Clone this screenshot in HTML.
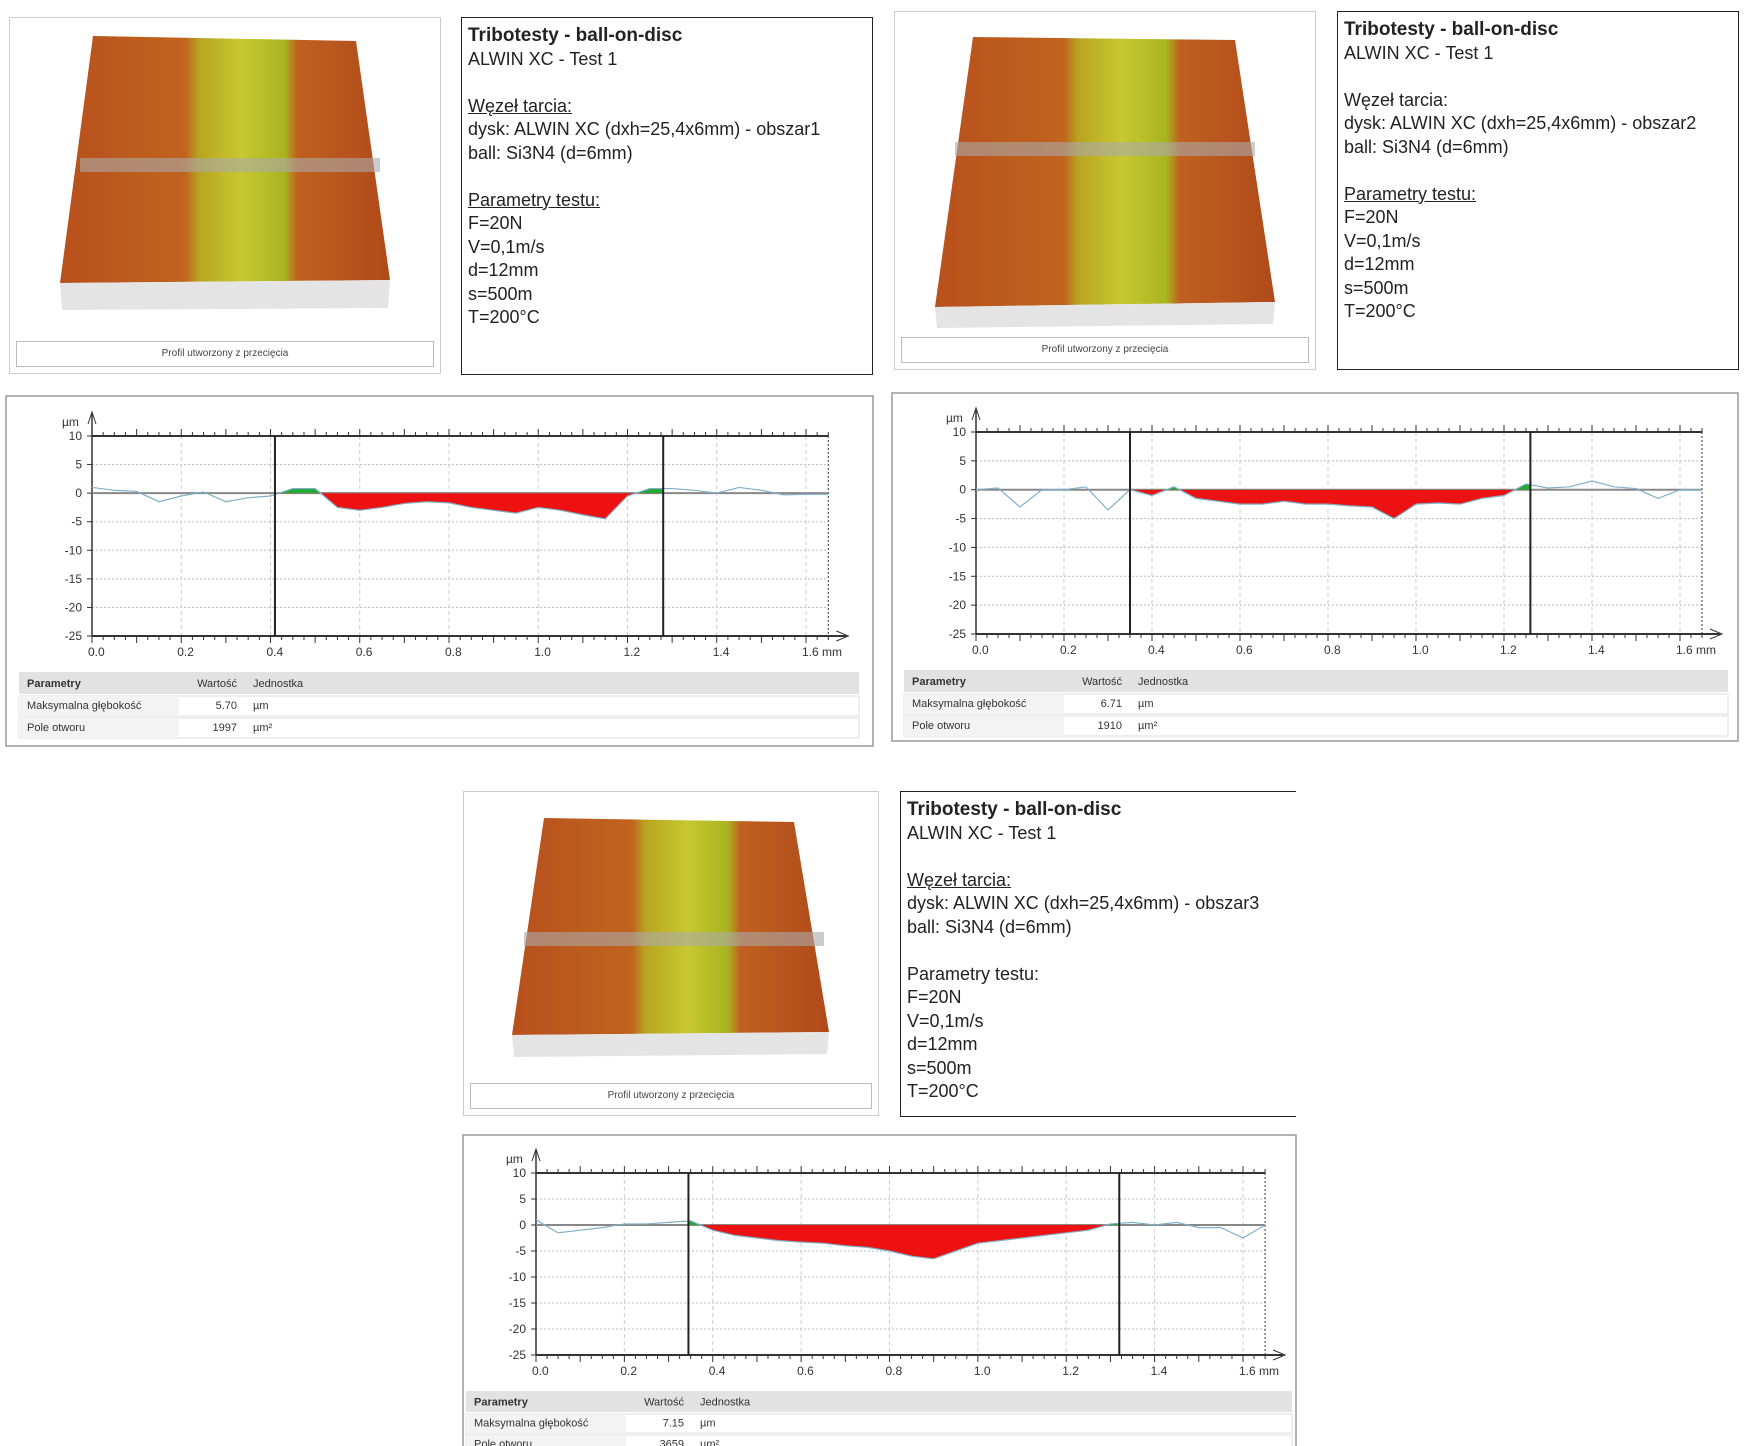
<!DOCTYPE html>
<html><head><meta charset="utf-8">
<style>
html,body{margin:0;padding:0;background:#fff;}
body{width:1750px;height:1446px;position:relative;overflow:hidden;font-family:"Liberation Sans",sans-serif;}
.box{position:absolute;border:1.5px solid #222;box-sizing:border-box;background:#fff;}
.imgp{position:absolute;border:1px solid #ccc;box-sizing:border-box;background:#fff;}
.txt{padding:6px 6px;font-size:18px;line-height:23.5px;color:#222;}
.txt b{font-size:19px;}
.txt u{text-decoration:underline;}
.cap{position:absolute;left:6px;right:6px;bottom:6px;height:24px;border:1px solid #bbb;font-size:10px;text-align:center;line-height:24px;color:#444;}
svg text{font-family:"Liberation Sans",sans-serif;}
</style></head><body>

<div class="imgp" style="left:9px;top:17px;width:432px;height:357px;">
<svg width="430" height="320"><defs><linearGradient id="g1" x1="0" x2="1"><stop offset="0" stop-color="#b8501c"/><stop offset="0.38" stop-color="#c0641f"/><stop offset="0.42" stop-color="#b8a420"/><stop offset="0.55" stop-color="#c8c830"/><stop offset="0.68" stop-color="#a8b420"/><stop offset="0.72" stop-color="#c06020"/><stop offset="1" stop-color="#b04a1a"/></linearGradient></defs>
<polygon points="83,18 346,23 380,262 50,265" fill="url(#g1)"/><polygon points="50,265 380,262 378,290 52,292" fill="#e4e4e4"/><rect x="70" y="140" width="300" height="14" fill="#aaa" opacity="0.6"/></svg>
<div class="cap">Profil utworzony z przecięcia</div></div>
<div class="box txt" style="left:461px;top:17px;width:412px;height:358px;"><b>Tribotesty - ball-on-disc</b><br>ALWIN XC - Test 1<br><br><u>Węzeł tarcia:</u><br>dysk: ALWIN XC (dxh=25,4x6mm) - obszar1<br>ball: Si3N4 (d=6mm)<br><br><u>Parametry testu:</u><br>F=20N<br>V=0,1m/s<br>d=12mm<br>s=500m<br>T=200°C</div>

<div class="imgp" style="left:894px;top:11px;width:422px;height:359px;">
<svg width="420" height="320"><polygon points="78,25 340,28 380,290 40,295" fill="url(#g1)"/><polygon points="40,295 380,290 378,312 42,316" fill="#e4e4e4"/><rect x="60" y="130" width="300" height="14" fill="#aaa" opacity="0.6"/></svg>
<div class="cap">Profil utworzony z przecięcia</div></div>
<div class="box txt" style="left:1337px;top:11px;width:402px;height:359px;"><b>Tribotesty - ball-on-disc</b><br>ALWIN XC - Test 1<br><br>Węzeł tarcia:<br>dysk: ALWIN XC (dxh=25,4x6mm) - obszar2<br>ball: Si3N4 (d=6mm)<br><br><u>Parametry testu:</u><br>F=20N<br>V=0,1m/s<br>d=12mm<br>s=500m<br>T=200°C</div>

<div class="imgp" style="left:463px;top:791px;width:416px;height:325px;">
<svg width="414" height="290"><polygon points="80,26 330,30 365,240 48,243" fill="url(#g1)"/><polygon points="48,243 365,240 363,262 50,265" fill="#e4e4e4"/><rect x="60" y="140" width="300" height="14" fill="#aaa" opacity="0.6"/></svg>
<div class="cap">Profil utworzony z przecięcia</div></div>
<div class="box txt" style="left:900px;top:791px;width:396px;height:326px;border-right:none;"><b>Tribotesty - ball-on-disc</b><br>ALWIN XC - Test 1<br><br><u>Węzeł tarcia:</u><br>dysk: ALWIN XC (dxh=25,4x6mm) - obszar3<br>ball: Si3N4 (d=6mm)<br><br>Parametry testu:<br>F=20N<br>V=0,1m/s<br>d=12mm<br>s=500m<br>T=200°C</div>

<svg id="charts" width="1750" height="1446" style="position:absolute;left:0;top:0;"></svg>

<script>
const xVals = [0,0.05,0.1,0.15,0.2,0.25,0.3,0.35,0.4,0.45,0.5,0.55,0.6,0.65,0.7,0.75,0.8,0.85,0.9,0.95,1.0,1.05,1.1,1.15,1.2,1.25,1.3,1.35,1.4,1.45,1.5,1.55,1.6,1.65];
const profile1 = [1,0.5,0.3,-1.5,-0.5,0.2,-1.5,-0.8,-0.5,0.8,0.8,-2.5,-3,-2.5,-1.8,-1.5,-1.7,-2.5,-3,-3.5,-2.5,-3,-3.8,-4.5,-0.5,0.8,0.8,0.5,0,1,0.5,-0.3,-0.2,-0.2];
const profile2 = [0,0.3,-3,0,0,0.5,-3.5,0,-1,0.5,-1.5,-2,-2.5,-2.5,-2,-2.5,-2.5,-2.8,-3,-5,-2.5,-2.3,-2.5,-1.5,-1,1,0.3,0.5,1.5,0.5,0.2,-1.5,0,0];
const profile3 = [1,-1.5,-1,-0.5,0.2,0.2,0.5,0.8,-1,-2,-2.5,-3,-3.3,-3.5,-4,-4.3,-5,-6,-6.5,-5,-3.5,-3,-2.5,-2,-1.5,-1,0.2,0.5,0,0.5,-0.5,-0.5,-2.5,0];
const cursors1 = [0.41,1.28], cursors2 = [0.35,1.26], cursors3 = [0.345,1.32];
const yTicks = [10,5,0,-5,-10,-15,-20,-25];
const xTicks = [0,0.2,0.4,0.6,0.8,1.0,1.2,1.4,1.6];
const xTickLabels = ['0.0','0.2','0.4','0.6','0.8','1.0','1.2','1.4','1.6 mm'];
const table1 = ['5.70','1997'], table2 = ['6.71','1910'], table3 = ['7.15','3659'];

const NS='http://www.w3.org/2000/svg';
const root=document.getElementById('charts');
function mk(tag,attrs,parent){const e=document.createElementNS(NS,tag);for(const k in attrs)e.setAttribute(k,attrs[k]);(parent||root).appendChild(e);return e;}

function chart(idx,cfg,data,cursors,tv){
  const g=mk('g',{});
  
  
  const X=v=>cfg.x0+(v/1.6)*(cfg.x16-cfg.x0);
  const Y=v=>cfg.y10+(10-v)/35*(cfg.y25-cfg.y10);
  const right=X(1.65);
  mk('rect',{x:cfg.px,y:cfg.py,width:cfg.pw,height:cfg.ph,fill:'#fff',stroke:'#999','stroke-width':1.5},g);
  // grid
  yTicks.forEach(t=>{ if(t!==10&&t!==-25&&t!==0) mk('line',{x1:X(0),x2:right,y1:Y(t),y2:Y(t),stroke:'#bbb','stroke-dasharray':'2,2'},g);});
  xTicks.forEach(t=>{ if(t>0) mk('line',{x1:X(t),x2:X(t),y1:Y(10),y2:Y(-25),stroke:'#ccc','stroke-dasharray':'4,3'},g);});
  // axes frame
  mk('line',{x1:X(0),x2:right,y1:Y(10),y2:Y(10),stroke:'#333','stroke-width':2},g);
  mk('line',{x1:X(0),x2:right+18,y1:Y(-25),y2:Y(-25),stroke:'#333','stroke-width':2},g);
  mk('line',{x1:X(0),x2:X(0),y1:Y(10)-22,y2:Y(-25),stroke:'#333','stroke-width':1.5},g);
  mk('line',{x1:right,x2:right,y1:Y(10),y2:Y(-25),stroke:'#333','stroke-width':1,'stroke-dasharray':'2,2'},g);
  mk('path',{d:`M${X(0)-4},${Y(10)-12} L${X(0)},${Y(10)-24} L${X(0)+4},${Y(10)-12}`,fill:'none',stroke:'#333'},g);
  mk('path',{d:`M${right+8},${Y(-25)-5} L${right+20},${Y(-25)} L${right+8},${Y(-25)+5}`,fill:'none',stroke:'#333'},g);
  for(let v=0;v<=1.65;v+=0.025){ const big=Math.abs(v/0.1-Math.round(v/0.1))<0.01;
    mk('line',{x1:X(v),x2:X(v),y1:Y(10),y2:Y(10)-(big?7:4),stroke:'#333'},g);
    mk('line',{x1:X(v),x2:X(v),y1:Y(-25),y2:Y(-25)+(big?7:4),stroke:'#333'},g);}
  yTicks.forEach(t=>{mk('line',{x1:X(0)-5,x2:X(0),y1:Y(t),y2:Y(t),stroke:'#333'},g);
    const tx=mk('text',{x:X(0)-10,y:Y(t)+4,'font-size':12,'text-anchor':'end',fill:'#333'},g);tx.textContent=t;});
  const u=mk('text',{x:X(0)-30,y:Y(10)-10,'font-size':12,fill:'#333'},g);u.textContent='µm';
  xTicks.forEach((t,i)=>{const tx=mk('text',{x:X(t)-4,y:Y(-25)+20,'font-size':12,fill:'#333'},g);tx.textContent=xTickLabels[i];});
  // zero line
  mk('line',{x1:X(0),x2:right,y1:Y(0),y2:Y(0),stroke:'#888','stroke-width':2},g);
  // fill between cursors
  const c0=cursors[0],c1=cursors[1];
  const interp=v=>{for(let i=0;i<xVals.length-1;i++){if(v>=xVals[i]&&v<=xVals[i+1]){const f=(v-xVals[i])/(xVals[i+1]-xVals[i]);return data[i]+f*(data[i+1]-data[i]);}}return 0;};
  let pts=[[c0,interp(c0)]];xVals.forEach((x,i)=>{if(x>c0&&x<c1)pts.push([x,data[i]]);});pts.push([c1,interp(c1)]);
  const poly=`M${X(c0)},${Y(0)} `+pts.map(p=>`L${X(p[0])},${Y(p[1])}`).join(' ')+` L${X(c1)},${Y(0)} Z`;
  const cid='clipn'+idx, cip='clipp'+idx;
  const defs=mk('defs',{},g);
  const cn=mk('clipPath',{id:cid},defs);mk('rect',{x:X(0),y:Y(0),width:right-X(0),height:Y(-25)-Y(0)},cn);
  const cp=mk('clipPath',{id:cip},defs);mk('rect',{x:X(0),y:Y(10),width:right-X(0),height:Y(0)-Y(10)},cp);
  const red=mk('path',{d:poly,fill:'#ee1111','clip-path':`url(#${cid})`},g);
  
  
  const grn=mk('path',{d:poly,fill:'#22aa33','clip-path':`url(#${cip})`},g);
  
  
  // outer line
  const outer=xVals.map((x,i)=>[x,data[i]]);
  const lp=mk('path',{d:outer.map((p,i)=>(i?'L':'M')+X(p[0])+','+Y(p[1])).join(' '),fill:'none',stroke:'#7fb0c8','stroke-width':1.2},g);
  
  
  cursors.forEach((c,i)=>{const l=mk('line',{x1:X(c),x2:X(c),y1:Y(10),y2:Y(-25),stroke:'#222','stroke-width':2},g);
    
    });
  // table
  const tx0=cfg.tx,ty=cfg.ty,tw=cfg.tw,rh=cfg.rh;
  mk('rect',{x:tx0,y:ty,width:tw,height:rh,fill:'#e2e2e2'},g);
  [1,2].forEach(r=>{mk('rect',{x:tx0,y:ty+rh*r+2,width:tw,height:rh-2,fill:'#fff',stroke:'#ddd'},g);
    mk('rect',{x:tx0,y:ty+rh*r+2,width:160,height:rh-2,fill:'#f3f3f3'},g);});
  const cells=[['Parametry','Wartość','Jednostka'],['Maksymalna głębokość',tv[0],'µm'],['Pole otworu',tv[1],'µm²']];
  cells.forEach((row,r)=>{const y=ty+rh*r+rh/2+4;
    const a=mk('text',{x:tx0+8,y:y,'font-size':11,'font-weight':r?'normal':'bold',fill:'#333'},g);a.textContent=row[0];
    const b=mk('text',{x:tx0+218,y:y,'font-size':11,'text-anchor':'end',fill:'#333'},g);b.textContent=row[1];
    const c=mk('text',{x:tx0+234,y:y,'font-size':11,fill:'#333'},g);c.textContent=row[2];});
}
chart(1,{px:6,py:396,pw:867,ph:350,x0:92,x16:806,y10:436,y25:636,tx:19,ty:672,tw:840,rh:22},profile1,cursors1,table1);
chart(2,{px:892,py:393,pw:846,ph:348,x0:976,x16:1680,y10:432,y25:634,tx:904,ty:670,tw:824,rh:22},profile2,cursors2,table2);
chart(3,{px:463,py:1135,pw:833,ph:320,x0:536,x16:1243,y10:1173,y25:1355,tx:466,ty:1391,tw:826,rh:21},profile3,cursors3,table3);
</script>
</body></html>
